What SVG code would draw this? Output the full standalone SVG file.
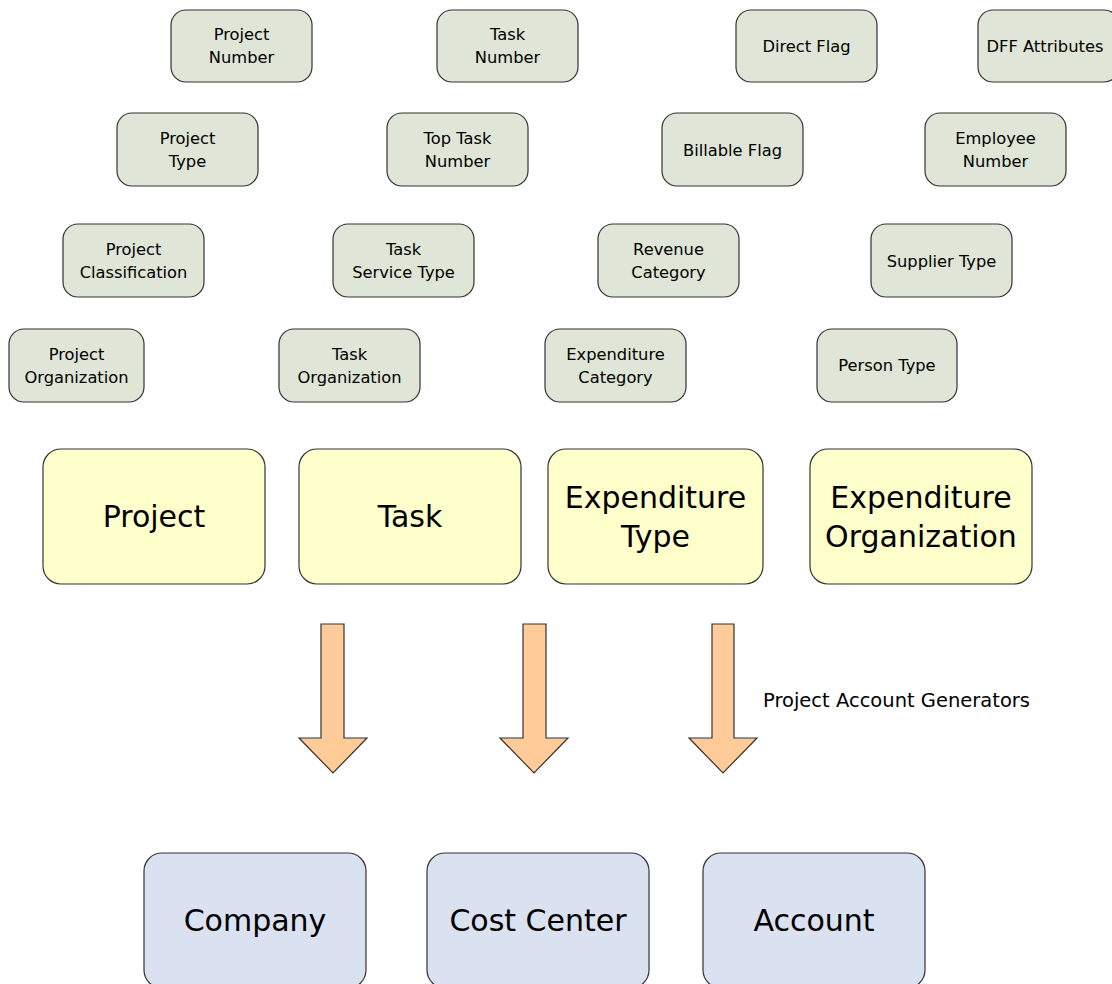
<svg xmlns="http://www.w3.org/2000/svg" width="1112" height="984" viewBox="0 0 1112 984">
<style>
text{font-family:"DejaVu Sans","Noto Sans",sans-serif;fill:#000;text-anchor:middle}
.s rect{fill:#DFE6D7;stroke:#333;stroke-width:1.2}
.s text{font-size:16.3px}
.y rect{fill:#FFFFCC;stroke:#333;stroke-width:1.2}
.b rect{fill:#DAE1F1;stroke:#333;stroke-width:1.2}
.y text,.b text{font-size:30px}
.arr{fill:#FFCC99;stroke:#333;stroke-width:1.2}
.lbl{font-size:19.5px;text-anchor:start}
</style>
<rect width="1112" height="984" fill="#fff"/>
<!-- row 1 -->
<g id="project-number" class="s"><rect x="171" y="10" width="141" height="72" rx="15"/><text x="241.5" y="40">Project</text><text x="241.5" y="63">Number</text></g>
<g id="task-number" class="s"><rect x="437" y="10" width="141" height="72" rx="15"/><text x="507.5" y="40">Task</text><text x="507.5" y="63">Number</text></g>
<g id="direct-flag" class="s"><rect x="736" y="10" width="141" height="72" rx="15"/><text x="806.5" y="52">Direct Flag</text></g>
<g id="dff-attributes" class="s"><rect x="978" y="10" width="141" height="72" rx="15"/><text x="1045" y="52">DFF Attributes</text></g>
<!-- row 2 -->
<g id="project-type" class="s"><rect x="117" y="113" width="141" height="73" rx="15"/><text x="187.5" y="144">Project</text><text x="187.5" y="167">Type</text></g>
<g id="top-task-number" class="s"><rect x="387" y="113" width="141" height="73" rx="15"/><text x="457.5" y="144">Top Task</text><text x="457.5" y="167">Number</text></g>
<g id="billable-flag" class="s"><rect x="662" y="113" width="141" height="73" rx="15"/><text x="732.5" y="156">Billable Flag</text></g>
<g id="employee-number" class="s"><rect x="925" y="113" width="141" height="73" rx="15"/><text x="995.5" y="144">Employee</text><text x="995.5" y="167">Number</text></g>
<!-- row 3 -->
<g id="project-classification" class="s"><rect x="63" y="224" width="141" height="73" rx="15"/><text x="133.5" y="255">Project</text><text x="133.5" y="278">Classification</text></g>
<g id="task-service-type" class="s"><rect x="333" y="224" width="141" height="73" rx="15"/><text x="403.5" y="255">Task</text><text x="403.5" y="278">Service Type</text></g>
<g id="revenue-category" class="s"><rect x="598" y="224" width="141" height="73" rx="15"/><text x="668.5" y="255">Revenue</text><text x="668.5" y="278">Category</text></g>
<g id="supplier-type" class="s"><rect x="871" y="224" width="141" height="73" rx="15"/><text x="941.5" y="267">Supplier Type</text></g>
<!-- row 4 -->
<g id="project-organization" class="s"><rect x="9" y="329" width="135" height="73" rx="15"/><text x="76.5" y="360">Project</text><text x="76.5" y="383">Organization</text></g>
<g id="task-organization" class="s"><rect x="279" y="329" width="141" height="73" rx="15"/><text x="349.5" y="360">Task</text><text x="349.5" y="383">Organization</text></g>
<g id="expenditure-category" class="s"><rect x="545" y="329" width="141" height="73" rx="15"/><text x="615.5" y="360">Expenditure</text><text x="615.5" y="383">Category</text></g>
<g id="person-type" class="s"><rect x="817" y="329" width="140" height="73" rx="15"/><text x="887" y="371">Person Type</text></g>
<!-- main sources -->
<g id="project" class="y"><rect x="43" y="449" width="222" height="135" rx="18"/><text x="154" y="527">Project</text></g>
<g id="task" class="y"><rect x="299" y="449" width="222" height="135" rx="18"/><text x="410" y="527">Task</text></g>
<g id="expenditure-type" class="y"><rect x="548" y="449" width="215" height="135" rx="18"/><text x="655.5" y="508">Expenditure</text><text x="655.5" y="547">Type</text></g>
<g id="expenditure-organization" class="y"><rect x="810" y="449" width="222" height="135" rx="18"/><text x="921" y="508">Expenditure</text><text x="921" y="547">Organization</text></g>
<!-- connectors -->
<g id="connectors">
<polygon class="arr" points="321,624 344,624 344,738 367,738 333,773 299,738 321,738"/>
<polygon class="arr" points="523,624 546,624 546,738 568,738 534,773 500,738 523,738"/>
<polygon class="arr" points="712,624 734,624 734,738 757,738 723,773 689,738 712,738"/>
<text class="lbl" x="763" y="707">Project Account Generators</text>
</g>
<!-- targets -->
<g id="company" class="b"><rect x="144" y="853" width="222" height="135" rx="18"/><text x="255" y="931">Company</text></g>
<g id="cost-center" class="b"><rect x="427" y="853" width="222" height="135" rx="18"/><text x="538" y="931">Cost Center</text></g>
<g id="account" class="b"><rect x="703" y="853" width="222" height="135" rx="18"/><text x="814" y="931">Account</text></g>
</svg>
